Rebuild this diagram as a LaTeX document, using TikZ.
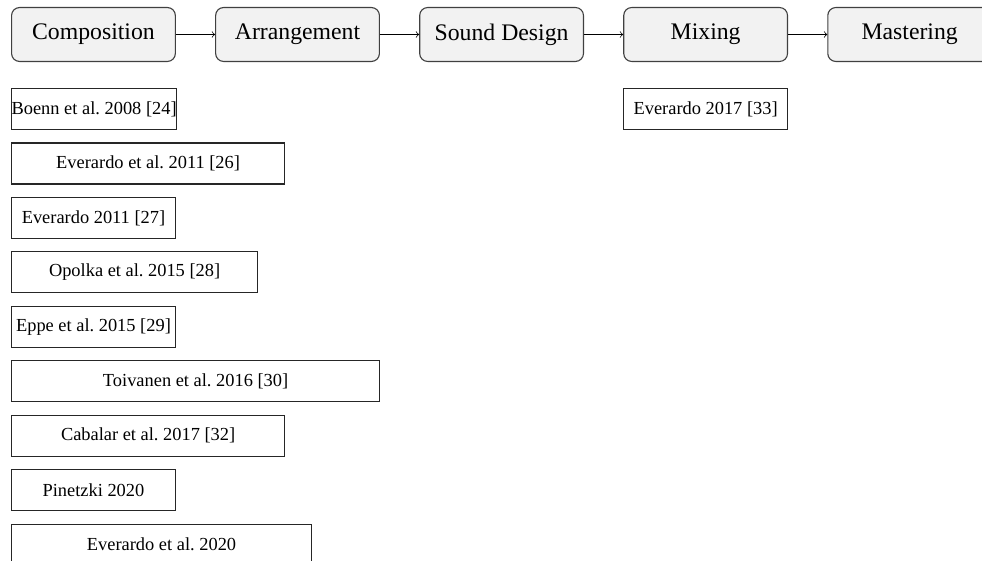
\documentclass[tikz,border=0pt]{standalone}
\usepackage{fontspec}
\setmainfont{Liberation Serif}
\usepackage{xcolor}
\usetikzlibrary{arrows.meta, positioning}

\begin{document}
\frenchspacing
\begin{tikzpicture}[
  stage/.style={draw=black!75, fill=gray!10, line width=0.6pt, rounded corners=4.3pt, minimum width=89pt, minimum height=29.3pt, inner sep=0pt, font=\fontsize{12.9}{15}\selectfont},
  ref/.style={draw=black!85, line width=0.6pt, minimum height=22.3pt, inner sep=0pt, font=\fontsize{10}{12}\selectfont},
  >=to, node distance=21.3pt
]
\clip (0,0) rectangle (533.7pt,-304.4pt);

% Pipeline
\node[stage, anchor=north west] (comp) at (6pt,-3.8pt) {Composition};
\node[stage, right=of comp] (arr)  {Arrangement};
\node[stage, right=of arr]  (sd)   {Sound Design};
\node[stage, right=of sd]   (mix)  {Mixing};
\node[stage, right=of mix]  (mast) {Mastering};

\draw[->] (comp) -- (arr);
\draw[->] (arr)  -- (sd);
\draw[->] (sd)   -- (mix);
\draw[->] (mix)  -- (mast);

% Works under Composition
\node[ref, minimum width=89pt,    below=14.1pt of comp.south west, anchor=north west] (c1) {Boenn et al. 2008 [24]};
\node[ref, minimum width=148.4pt, below=6.7pt of c1.south west, anchor=north west] (c2) {Everardo et al. 2011 [26]};
\node[ref, minimum width=89pt,    below=6.7pt of c2.south west, anchor=north west] (c3) {Everardo 2011 [27]};
\node[ref, minimum width=133.7pt, below=6.7pt of c3.south west, anchor=north west] (c4) {Opolka et al. 2015 [28]};
\node[ref, minimum width=89pt,    below=6.7pt of c4.south west, anchor=north west] (c5) {Eppe et al. 2015 [29]};
\node[ref, minimum width=200pt,   below=6.7pt of c5.south west, anchor=north west] (c6) {Toivanen et al. 2016 [30]};
\node[ref, minimum width=148.4pt, below=6.7pt of c6.south west, anchor=north west] (c7) {Cabalar et al. 2017 [32]};
\node[ref, minimum width=89pt,    below=6.7pt of c7.south west, anchor=north west] (c8) {Pinetzki 2020};
\node[ref, minimum width=163pt,   below=6.7pt of c8.south west, anchor=north west] (c9) {Everardo et al. 2020};

% Works under Mixing
\node[ref, minimum width=89pt, below=14.1pt of mix.south west, anchor=north west] (m1) {Everardo 2017 [33]};

\end{tikzpicture}
\end{document}
